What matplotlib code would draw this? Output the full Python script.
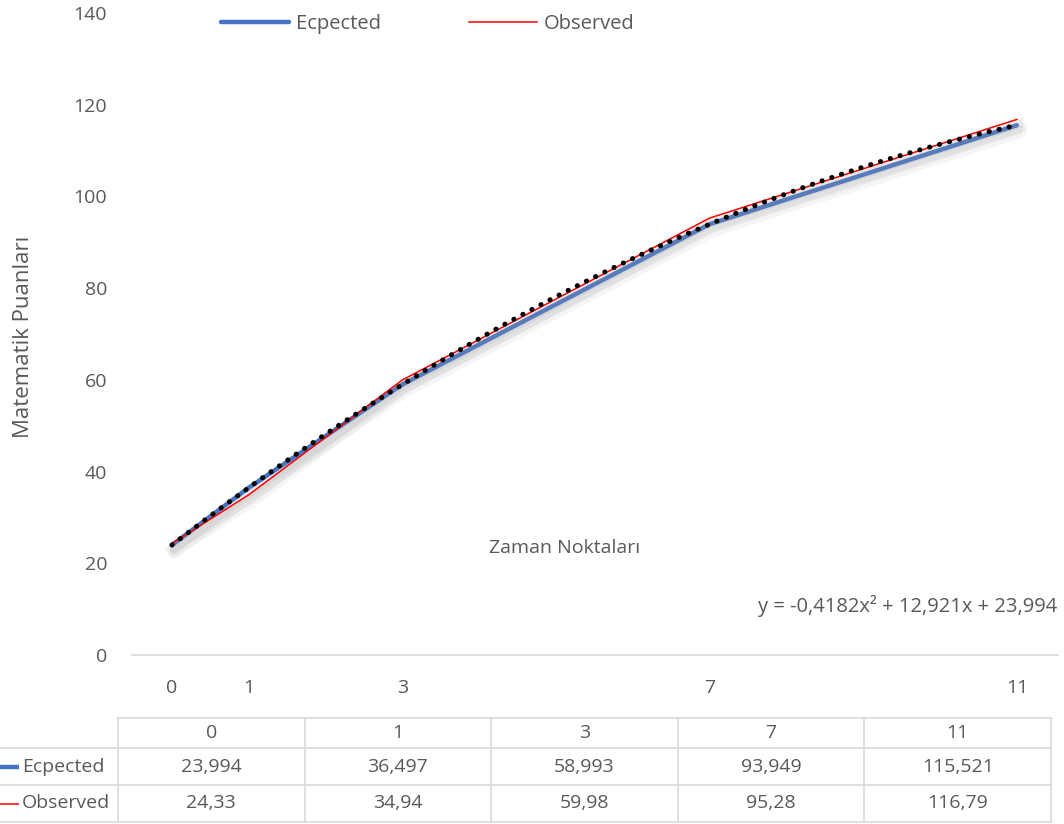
import numpy as np
import matplotlib
matplotlib.use("Agg")
import matplotlib.pyplot as plt
import matplotlib.patheffects as pe

plt.rcParams['font.family'] = ['Open Sans', 'DejaVu Sans']

# time points and scores
time_points = [0, 1, 3, 7, 11]
expected = [23.994, 36.497, 58.993, 93.949, 115.521]
observed = [24.33, 34.94, 59.98, 95.28, 116.79]
series_names = ['Ecpected', 'Observed']
# polynomial trendline on the expected series (a*x^2 + b*x + c)
trend_coef = [-0.4182, 12.921, 23.994]
y_ticks = [0, 20, 40, 60, 80, 100, 120, 140]

grey_text = '#595959'
grid_col = '#d9d9d9'
blue = '#4472C4'
red = '#FF0000'
fs = 14

def tr(v):
    return str(v).replace('.', ',')

fig = plt.figure(figsize=(10.64, 8.24), dpi=100)
ax = fig.add_axes([132/1064, 1-655/824, 926/1064, 642/824])

shadow = [pe.SimpleLineShadow(offset=(1.5, -4.5), shadow_color='#a0a0a0', alpha=0.1, linewidth=10),
          pe.SimpleLineShadow(offset=(1.5, -3.5), shadow_color='#a0a0a0', alpha=0.14, linewidth=6),
          pe.Normal()]

l1, = ax.plot(time_points, expected, color=blue, lw=3.2, solid_capstyle='round',
              path_effects=shadow, zorder=3)
l2, = ax.plot(time_points, observed, color=red, lw=1.1, path_effects=shadow, zorder=4)

xs = np.linspace(time_points[0], time_points[-1], 300)
ax.plot(xs, np.polyval(trend_coef, xs), color='black', lw=3.6,
        linestyle=(0, (0.05, 2.0)), dash_capstyle='round', zorder=5)

ax.set_xlim(-0.521, 11.536)
ax.set_ylim(0, 140)
ax.set_yticks(y_ticks)
ax.set_xticks(time_points)
ax.tick_params(axis='both', length=0, labelsize=fs, labelcolor=grey_text)
ax.tick_params(axis='y', pad=18)
ax.tick_params(axis='x', pad=17.5)
for s in ['top', 'right', 'left']:
    ax.spines[s].set_visible(False)
ax.spines['bottom'].set_color(grid_col)
ax.spines['bottom'].set_linewidth(1.2)

ax.set_ylabel('Matematik Puanları', fontsize=16, color=grey_text)
ax.yaxis.set_label_coords(-0.106, 0.495)

ax.text(0.4676, 0.1667, 'Zaman Noktaları', transform=ax.transAxes, ha='center',
        va='center', fontsize=fs, color=grey_text)

eq = 'y = {}x² + {}x + {}'.format(*[tr(c) for c in trend_coef])
ax.text(0.999, 0.0763, eq, transform=ax.transAxes, ha='right', va='center',
        fontsize=14.5, color=grey_text)

leg = fig.legend([l1, l2], series_names, loc='center', bbox_to_anchor=(0.402, 0.971),
                 ncol=2, frameon=False, handlelength=3.4, handletextpad=0.35,
                 columnspacing=4.35, fontsize=14.5)
for t in leg.get_texts():
    t.set_color(grey_text)
for h in leg.legend_handles:
    h.set_path_effects([])

# data table under the chart, drawn in pixel space
tab = fig.add_axes([0, 0, 1, 1], zorder=-1)
tab.set_xlim(0, 1064)
tab.set_ylim(824, 0)
tab.axis('off')

col_left, col_w = 118, 186.6
row_y = [718, 748, 785, 822]
col_x = [col_left + i * col_w for i in range(len(time_points) + 1)]

tab.plot([col_x[0], col_x[-1]], [row_y[0], row_y[0]], color=grid_col, lw=1.2)
for y in row_y[1:]:
    tab.plot([0, col_x[-1]], [y, y], color=grid_col, lw=1.2)
for x in col_x:
    tab.plot([x, x], [row_y[0], row_y[-1]], color=grid_col, lw=1.2)

for i, tp in enumerate(time_points):
    cx = col_x[i] + col_w / 2
    tab.text(cx, (row_y[0] + row_y[1]) / 2, str(tp), ha='center', va='center',
             fontsize=fs, color=grey_text)
    for r, vals in enumerate([expected, observed]):
        tab.text(cx, (row_y[r+1] + row_y[r+2]) / 2, tr(vals[i]), ha='center',
                 va='center', fontsize=fs, color=grey_text)

for r, (name, col, lw) in enumerate([(series_names[0], blue, 3.2), (series_names[1], red, 1.1)]):
    yc = (row_y[r+1] + row_y[r+2]) / 2
    tab.plot([0, 19], [yc, yc], color=col, lw=lw, solid_capstyle='butt')
    tab.text(22, yc, name, ha='left', va='center', fontsize=fs, color=grey_text)

fig.savefig('out.png', dpi=100)
